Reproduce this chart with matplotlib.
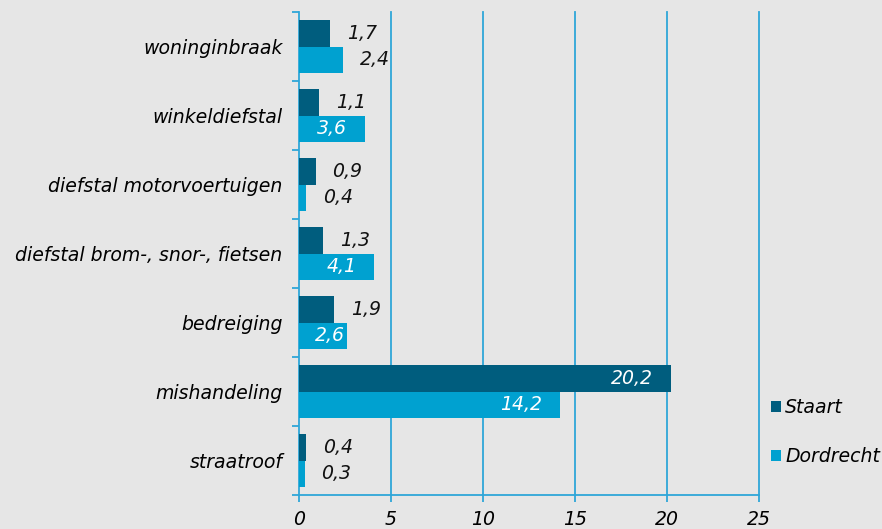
import matplotlib.pyplot as plt
import numpy as np

# data
categories = ["woninginbraak", "winkeldiefstal", "diefstal motorvoertuigen",
              "diefstal brom-, snor-, fietsen", "bedreiging", "mishandeling",
              "straatroof"]
staart = [1.7, 1.1, 0.9, 1.3, 1.9, 20.2, 0.4]
dordrecht = [2.4, 3.6, 0.4, 4.1, 2.6, 14.2, 0.3]
# which labels sit inside the bar (white)
staart_inside = [False, False, False, False, False, True, False]
dordrecht_inside = [False, True, False, True, True, True, False]

bg = "#e6e6e6"
dark = "#005d7e"
light = "#00a1d0"
grid_col = "#2fa6d8"

plt.rcParams["font.family"] = ["DejaVu Sans"]
plt.rcParams["font.style"] = "italic"

fig = plt.figure(figsize=(8.82, 5.29), dpi=100, facecolor=bg)
ax = fig.add_axes([299 / 882, 1 - 495 / 529, 460 / 882, 483 / 529])
ax.set_facecolor(bg)

n = len(categories)
y = np.arange(n)
h = 0.38
ax.barh(y - h / 2, staart, height=h, color=dark, label="Staart", zorder=3)
ax.barh(y + h / 2, dordrecht, height=h, color=light, label="Dordrecht", zorder=3)

fs = 13.6
for i in range(n):
    for val, off, inside in ((staart[i], -h / 2, staart_inside[i]),
                             (dordrecht[i], h / 2, dordrecht_inside[i])):
        txt = f"{val:.1f}".replace(".", ",")
        if inside:
            # short bars: the label is pushed towards the bar end
            pad = -13 if val > 3 else -1.5
            ax.annotate(txt, (val, y[i] + off), xytext=(pad, 0),
                        textcoords="offset points", ha="right", va="center",
                        color="white", fontsize=fs, zorder=4)
        else:
            ax.annotate(txt, (val, y[i] + off), xytext=(12, 0),
                        textcoords="offset points", ha="left", va="center",
                        color="#111111", fontsize=fs, zorder=4)

ax.set_xlim(0, 25)
ax.set_ylim(n - 0.5, -0.5)
ax.set_xticks([0, 5, 10, 15, 20, 25])
ax.set_xticklabels(["0", "5", "10", "15", "20", "25"], fontsize=fs)
for xv in [5, 10, 15, 20, 25]:
    ax.axvline(xv, color=grid_col, linewidth=1.3, zorder=0, clip_on=False)

# category labels centred, ticks at the boundaries
ax.set_yticks(y)
ax.set_yticklabels(categories, fontsize=fs)
ax.tick_params(axis="y", length=0, pad=12)
ax.set_yticks(np.arange(n + 1) - 0.5, minor=True)
ax.tick_params(axis="y", which="minor", length=5, color=grid_col, width=1.3)
ax.tick_params(axis="x", length=5, color=grid_col, width=1.3, pad=6)

for s in ("top", "right"):
    ax.spines[s].set_visible(False)
for s in ("left", "bottom"):
    ax.spines[s].set_color(grid_col)
    ax.spines[s].set_linewidth(1.3)

fig.legend(*ax.get_legend_handles_labels(), loc="center left",
           bbox_to_anchor=(771 / 882, 1 - 432 / 529),
           bbox_transform=fig.transFigure, frameon=False,
           fontsize=fs, handlelength=0.55, handleheight=0.55,
           handletextpad=0.2, labelspacing=1.6, borderaxespad=0, borderpad=0)

fig.savefig("out.png", dpi=100, facecolor=bg)
